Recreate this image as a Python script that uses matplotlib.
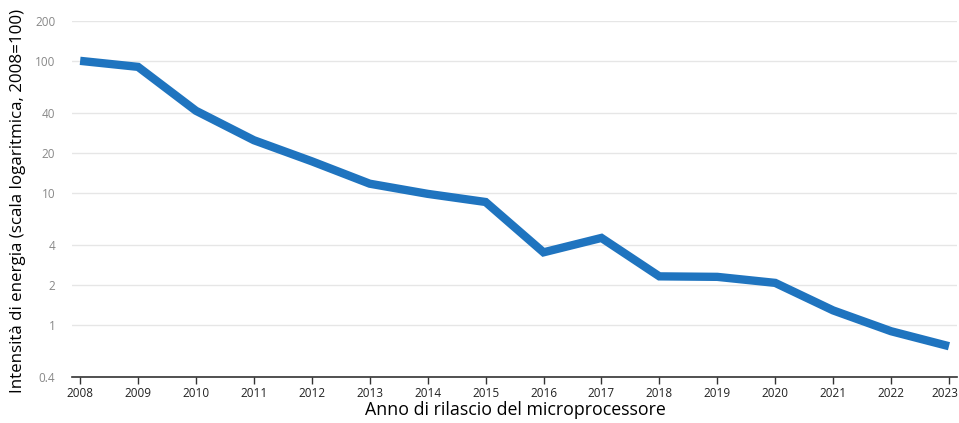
import matplotlib
matplotlib.use("Agg")
import matplotlib.pyplot as plt
from matplotlib.ticker import FixedLocator, NullLocator, FixedFormatter
from matplotlib.transforms import ScaledTranslation

years = [2008, 2009, 2010, 2011, 2012, 2013, 2014, 2015, 2016, 2017, 2018, 2019, 2020, 2021, 2022, 2023]
intensity = [100, 90, 41.8, 25, 17.3, 11.7, 9.8, 8.5, 3.53, 4.54, 2.32, 2.30, 2.07, 1.28, 0.89, 0.685]
y_ticks = [0.4, 1, 2, 4, 10, 20, 40, 100, 200]
y_tick_labels = ["0.4", "1", "2", "4", "10", "20", "40", "100", "200"]

fig = plt.figure(figsize=(9.59, 4.23), dpi=100)
ax = fig.add_axes([0.0751, 0.1087, 0.9229, 0.8413])

ax.plot(years, intensity, color="#1f74bf", linewidth=6, solid_joinstyle="miter", solid_capstyle="butt")

ax.set_yscale("log")
ax.set_ylim(0.4, 200)
ax.set_xlim(2007.86, 2023.14)
ax.yaxis.set_major_locator(FixedLocator(y_ticks))
ax.yaxis.set_major_formatter(FixedFormatter(y_tick_labels))
ax.yaxis.set_minor_locator(NullLocator())
ax.set_xticks(years)
ax.set_xticklabels([str(y) for y in years])

ax.grid(axis="y", color="#e6e6e6", linewidth=1)
ax.set_axisbelow(True)
for s in ["top", "right", "left"]:
    ax.spines[s].set_visible(False)
ax.spines["bottom"].set_color("#333333")
ax.spines["bottom"].set_linewidth(1.2)

ax.tick_params(axis="y", length=0, pad=12, labelsize=8.5, labelcolor="#888888")
ax.tick_params(axis="x", length=5, width=1, color="#333333", pad=2, labelsize=8.5, labelcolor="#222222")
for lab in ax.get_xticklabels() + ax.get_yticklabels():
    lab.set_family("Open Sans")
last = ax.get_xticklabels()[-1]
last.set_transform(last.get_transform() + ScaledTranslation(-0.04, 0, fig.dpi_scale_trans))

fig.text(0.537, 0.030, "Anno di rilascio del microprocessore", fontsize=12.8, family="Open Sans",
         ha="center", va="center")
fig.text(0.019, 0.524, "Intensità di energia (scala logaritmica, 2008=100)", rotation=90,
         fontsize=12.2, family="Open Sans", ha="center", va="center")

fig.savefig("out.png", dpi=100)
